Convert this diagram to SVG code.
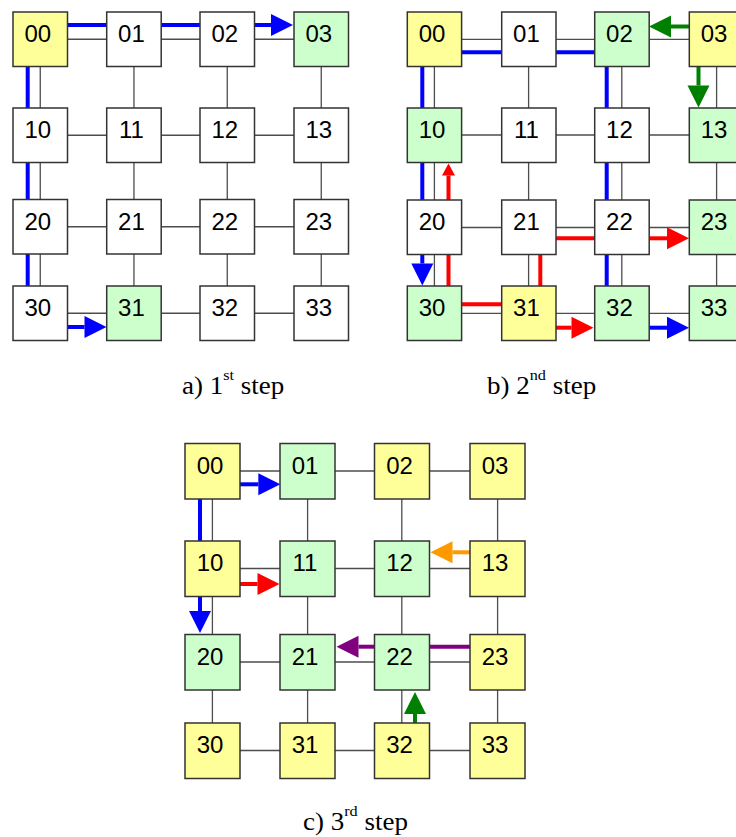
<svg xmlns="http://www.w3.org/2000/svg" width="736" height="837" viewBox="0 0 736 837">
<style>
.b{stroke:#333;stroke-width:1.5}
.w{fill:#fff}.y{fill:#ffff99}.g{fill:#ccffcc}
.t{font-family:"Liberation Sans",Arial,sans-serif;font-size:24px;fill:#000;text-anchor:middle}
.cap{font-family:"Liberation Serif","Times New Roman",serif;font-size:25px;fill:#000}
.gl{fill:none;stroke:#4d4d4d;stroke-width:1.3}
.a{fill:none;stroke-width:4;stroke-linecap:butt}
.blue{stroke:#0000ff}.red{stroke:#ff0000}.grn{stroke:#008000}.org{stroke:#ff9900}.pur{stroke:#800080}
</style>
<defs>
<marker id="hb" markerUnits="userSpaceOnUse" markerWidth="22" markerHeight="22" refX="0" refY="11" orient="auto" overflow="visible"><path d="M0,0L22,11L0,22z" fill="#0000ff"/></marker>
<marker id="hr" markerUnits="userSpaceOnUse" markerWidth="22" markerHeight="22" refX="0" refY="11" orient="auto" overflow="visible"><path d="M0,0L22,11L0,22z" fill="#ff0000"/></marker>
<marker id="hrs" markerUnits="userSpaceOnUse" markerWidth="12" markerHeight="13" refX="0" refY="6.5" orient="auto" overflow="visible"><path d="M0,0L12,6.5L0,13z" fill="#ff0000"/></marker>
<marker id="hg" markerUnits="userSpaceOnUse" markerWidth="22" markerHeight="22" refX="0" refY="11" orient="auto" overflow="visible"><path d="M0,0L22,11L0,22z" fill="#008000"/></marker>
<marker id="ho" markerUnits="userSpaceOnUse" markerWidth="22" markerHeight="22" refX="0" refY="11" orient="auto" overflow="visible"><path d="M0,0L22,11L0,22z" fill="#ff9900"/></marker>
<marker id="hp" markerUnits="userSpaceOnUse" markerWidth="22" markerHeight="22" refX="0" refY="11" orient="auto" overflow="visible"><path d="M0,0L22,11L0,22z" fill="#800080"/></marker>
</defs>
<rect width="736" height="837" fill="#fff"/>

<g id="connectors">
<path class="gl" d="M67.5,39.25H106.7M161.2,39.25H200M254.5,39.25H294
M67.5,135.25H106.7M161.2,135.25H200M254.5,135.25H294
M67.5,226.75H106.7M161.2,226.75H200M254.5,226.75H294
M67.5,313.25H106.7M161.2,313.25H200M254.5,313.25H294
M40.25,66.5V108M40.25,162.5V199.5M40.25,254V286
M133.95,66.5V108M133.95,162.5V199.5M133.95,254V286
M227.25,66.5V108M227.25,162.5V199.5M227.25,254V286
M321.25,66.5V108M321.25,162.5V199.5M321.25,254V286"/>
<path class="gl" d="M461.6,39.3H501.7M556,39.3H594.7M649.2,39.3H689.3
M461.6,135H501.7M556,135H594.7M649.2,135H689.3
M461.6,227.5H501.7M556,227.5H594.7M649.2,227.5H689.3
M461.6,313.3H501.7M556,313.3H594.7M649.2,313.3H689.3
M434.4,66.5V108M434.4,162.5V200M434.4,254.5V286
M528.6,66.5V108M528.6,162.5V200M528.6,254.5V286
M621.8,66.5V108M621.8,162.5V200M621.8,254.5V286
M716.6,66.5V108M716.6,162.5V200M716.6,254.5V286"/>
<path class="gl" d="M240,471H280M335,471H374.5M429.5,471H470
M240,568.5H280M335,568.5H374.5M429.5,568.5H470
M240,662H280M335,662H374.5M429.5,662H470
M240,750.5H280M335,750.5H374.5M429.5,750.5H470
M212.4,499V541M212.4,596.5V634.5M212.4,690V723
M307.6,499V541M307.6,596.5V634.5M307.6,690V723
M401.8,499V541M401.8,596.5V634.5M401.8,690V723
M497.6,499V541M497.6,596.5V634.5M497.6,690V723"/>

<path class="a blue" d="M67.5,25H106.7M161.2,25H200M27.7,66.5V108M27.7,162.5V199.5M27.7,254V286"/>
<path class="a blue" d="M254.5,25H271" marker-end="url(#hb)"/>
<path class="a blue" d="M67.5,327H84.5" marker-end="url(#hb)"/>

<path class="a blue" d="M461.6,52.3H501.7M556,52.3H594.7M606.7,66.5V108M606.7,162.5V200M606.7,254.5V286M422.3,66.5V108M422.3,162.5V200"/>
<path class="a blue" d="M422.3,254.5V263.5" marker-end="url(#hb)"/>
<path class="a blue" d="M649.2,327.7H667" marker-end="url(#hb)"/>
<path class="a red" d="M448.5,286V254.5M461.6,304.3H501.7M540.3,286V254.5M556,238.3H594.7"/>
<path class="a red" d="M448.5,200V175.5" marker-end="url(#hrs)"/>
<path class="a red" d="M649.2,238.3H667" marker-end="url(#hr)"/>
<path class="a red" d="M556,327.7H571.5" marker-end="url(#hr)"/>
<path class="a grn" d="M689.3,26.5H671" marker-end="url(#hg)"/>
<path class="a grn" d="M698.5,66.5V85.5" marker-end="url(#hg)"/>

<path class="a blue" d="M240,484.3H258.3" marker-end="url(#hb)"/>
<path class="a blue" d="M200,499V541"/>
<path class="a blue" d="M200,596.5V611" marker-end="url(#hb)"/>
<path class="a red" d="M240,584H257.5" marker-end="url(#hr)"/>
<path class="a org" d="M470,552.3H452.5" marker-end="url(#ho)"/>
<path class="a pur" d="M470,646.7H429.5"/>
<path class="a pur" d="M374.5,646.7H358.5" marker-end="url(#hp)"/>
<path class="a grn" d="M415,723V714" marker-end="url(#hg)"/>
</g>

<g id="a00"><rect class="b y" x="13" y="12" width="54.5" height="54.5"/><text class="t" x="37.75" y="42">00</text></g>
<g id="a01"><rect class="b w" x="106.7" y="12" width="54.5" height="54.5"/><text class="t" x="131.45" y="42">01</text></g>
<g id="a02"><rect class="b w" x="200" y="12" width="54.5" height="54.5"/><text class="t" x="224.75" y="42">02</text></g>
<g id="a03"><rect class="b g" x="294" y="12" width="54.5" height="54.5"/><text class="t" x="318.75" y="42">03</text></g>
<g id="a10"><rect class="b w" x="13" y="108" width="54.5" height="54.5"/><text class="t" x="37.75" y="138">10</text></g>
<g id="a11"><rect class="b w" x="106.7" y="108" width="54.5" height="54.5"/><text class="t" x="131.45" y="138">11</text></g>
<g id="a12"><rect class="b w" x="200" y="108" width="54.5" height="54.5"/><text class="t" x="224.75" y="138">12</text></g>
<g id="a13"><rect class="b w" x="294" y="108" width="54.5" height="54.5"/><text class="t" x="318.75" y="138">13</text></g>
<g id="a20"><rect class="b w" x="13" y="199.5" width="54.5" height="54.5"/><text class="t" x="37.75" y="229.5">20</text></g>
<g id="a21"><rect class="b w" x="106.7" y="199.5" width="54.5" height="54.5"/><text class="t" x="131.45" y="229.5">21</text></g>
<g id="a22"><rect class="b w" x="200" y="199.5" width="54.5" height="54.5"/><text class="t" x="224.75" y="229.5">22</text></g>
<g id="a23"><rect class="b w" x="294" y="199.5" width="54.5" height="54.5"/><text class="t" x="318.75" y="229.5">23</text></g>
<g id="a30"><rect class="b w" x="13" y="286" width="54.5" height="54.5"/><text class="t" x="37.75" y="316">30</text></g>
<g id="a31"><rect class="b g" x="106.7" y="286" width="54.5" height="54.5"/><text class="t" x="131.45" y="316">31</text></g>
<g id="a32"><rect class="b w" x="200" y="286" width="54.5" height="54.5"/><text class="t" x="224.75" y="316">32</text></g>
<g id="a33"><rect class="b w" x="294" y="286" width="54.5" height="54.5"/><text class="t" x="318.75" y="316">33</text></g>

<g id="b00"><rect class="b y" x="407.3" y="12" width="54.3" height="54.5"/><text class="t" x="432" y="42">00</text></g>
<g id="b01"><rect class="b w" x="501.7" y="12" width="54.3" height="54.5"/><text class="t" x="526.4" y="42">01</text></g>
<g id="b02"><rect class="b g" x="594.7" y="12" width="54.5" height="54.5"/><text class="t" x="619.4" y="42">02</text></g>
<g id="b03"><rect class="b y" x="689.3" y="12" width="54.5" height="54.5"/><text class="t" x="714" y="42">03</text></g>
<g id="b10"><rect class="b g" x="407.3" y="108" width="54.3" height="54.5"/><text class="t" x="432" y="138">10</text></g>
<g id="b11"><rect class="b w" x="501.7" y="108" width="54.3" height="54.5"/><text class="t" x="526.4" y="138">11</text></g>
<g id="b12"><rect class="b w" x="594.7" y="108" width="54.5" height="54.5"/><text class="t" x="619.4" y="138">12</text></g>
<g id="b13"><rect class="b g" x="689.3" y="108" width="54.5" height="54.5"/><text class="t" x="714" y="138">13</text></g>
<g id="b20"><rect class="b w" x="407.3" y="200" width="54.3" height="54.5"/><text class="t" x="432" y="230">20</text></g>
<g id="b21"><rect class="b w" x="501.7" y="200" width="54.3" height="54.5"/><text class="t" x="526.4" y="230">21</text></g>
<g id="b22"><rect class="b w" x="594.7" y="200" width="54.5" height="54.5"/><text class="t" x="619.4" y="230">22</text></g>
<g id="b23"><rect class="b g" x="689.3" y="200" width="54.5" height="54.5"/><text class="t" x="714" y="230">23</text></g>
<g id="b30"><rect class="b g" x="407.3" y="286" width="54.3" height="54.5"/><text class="t" x="432" y="316">30</text></g>
<g id="b31"><rect class="b y" x="501.7" y="286" width="54.3" height="54.5"/><text class="t" x="526.4" y="316">31</text></g>
<g id="b32"><rect class="b g" x="594.7" y="286" width="54.5" height="54.5"/><text class="t" x="619.4" y="316">32</text></g>
<g id="b33"><rect class="b g" x="689.3" y="286" width="54.5" height="54.5"/><text class="t" x="714" y="316">33</text></g>

<g id="c00"><rect class="b y" x="185" y="443.5" width="55" height="55.5"/><text class="t" x="210" y="473.5">00</text></g>
<g id="c01"><rect class="b g" x="280" y="443.5" width="55" height="55.5"/><text class="t" x="305" y="473.5">01</text></g>
<g id="c02"><rect class="b y" x="374.5" y="443.5" width="55" height="55.5"/><text class="t" x="399.5" y="473.5">02</text></g>
<g id="c03"><rect class="b y" x="470" y="443.5" width="55" height="55.5"/><text class="t" x="495" y="473.5">03</text></g>
<g id="c10"><rect class="b y" x="185" y="541" width="55" height="55.5"/><text class="t" x="210" y="571">10</text></g>
<g id="c11"><rect class="b g" x="280" y="541" width="55" height="55.5"/><text class="t" x="305" y="571">11</text></g>
<g id="c12"><rect class="b g" x="374.5" y="541" width="55" height="55.5"/><text class="t" x="399.5" y="571">12</text></g>
<g id="c13"><rect class="b y" x="470" y="541" width="55" height="55.5"/><text class="t" x="495" y="571">13</text></g>
<g id="c20"><rect class="b g" x="185" y="634.5" width="55" height="55.5"/><text class="t" x="210" y="664.5">20</text></g>
<g id="c21"><rect class="b g" x="280" y="634.5" width="55" height="55.5"/><text class="t" x="305" y="664.5">21</text></g>
<g id="c22"><rect class="b g" x="374.5" y="634.5" width="55" height="55.5"/><text class="t" x="399.5" y="664.5">22</text></g>
<g id="c23"><rect class="b y" x="470" y="634.5" width="55" height="55.5"/><text class="t" x="495" y="664.5">23</text></g>
<g id="c30"><rect class="b y" x="185" y="723" width="55" height="55.5"/><text class="t" x="210" y="753">30</text></g>
<g id="c31"><rect class="b y" x="280" y="723" width="55" height="55.5"/><text class="t" x="305" y="753">31</text></g>
<g id="c32"><rect class="b y" x="374.5" y="723" width="55" height="55.5"/><text class="t" x="399.5" y="753">32</text></g>
<g id="c33"><rect class="b y" x="470" y="723" width="55" height="55.5"/><text class="t" x="495" y="753">33</text></g>

<text class="cap" transform="translate(182,394) scale(1.08,1)">a) 1<tspan font-size="15" dy="-14">st</tspan><tspan dy="14"> step</tspan></text>
<text class="cap" transform="translate(487,394) scale(1.08,1)">b) 2<tspan font-size="15" dy="-14">nd</tspan><tspan dy="14"> step</tspan></text>
<text class="cap" transform="translate(303,830) scale(1.08,1)">c) 3<tspan font-size="15" dy="-14">rd</tspan><tspan dy="14"> step</tspan></text>
</svg>
